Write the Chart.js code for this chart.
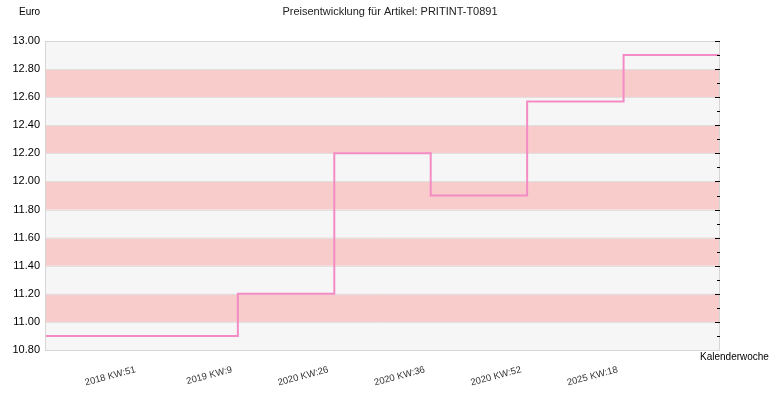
<!DOCTYPE html>
<html>
<head>
<meta charset="utf-8">
<script src="https://cdn.jsdelivr.net/npm/chart.js@4"></script>
<style>
  body { margin: 0; background: #fff; }
</style>
</head>
<body>
<canvas id="priceChart" width="770" height="400"></canvas>
<script>
// Data
const weeks = ['', '2018 KW:51', '2019 KW:9', '2020 KW:26', '2020 KW:36', '2020 KW:52', '2025 KW:18', ''];
const prices = [10.90, 10.90, 11.20, 12.20, 11.90, 12.57, 12.90, 12.90];
const yTicks = [10.80, 11.00, 11.20, 11.40, 11.60, 11.80, 12.00, 12.20, 12.40, 12.60, 12.80, 13.00];

const titleText = 'Preisentwicklung für Artikel: PRITINT-T0891';

// Bands, right ticks and extra texts
const decorPlugin = {
  id: 'decor',
  beforeDatasetsDraw(chart) {
    const { ctx, chartArea: a, scales: { y } } = chart;
    ctx.save();
    ctx.fillStyle = '#f6f6f6';
    ctx.fillRect(a.left, a.top, a.right - a.left, a.bottom - a.top);
    // pink band every other interval
    for (let i = 0; i < yTicks.length - 1; i++) {
      if (i % 2 === 1) {
        const y1 = y.getPixelForValue(yTicks[i]);
        const y2 = y.getPixelForValue(yTicks[i + 1]);
        ctx.fillStyle = '#f9cccc';
        ctx.fillRect(a.left, y2, a.right - a.left, y1 - y2);
      }
    }
    ctx.strokeStyle = '#e0e0e0';
    ctx.lineWidth = 1;
    yTicks.forEach(v => {
      const py = Math.round(y.getPixelForValue(v)) + 0.5;
      ctx.beginPath();
      ctx.moveTo(a.left, py);
      ctx.lineTo(a.right, py);
      ctx.stroke();
    });
    ctx.restore();
  },
  afterDraw(chart) {
    const { ctx, chartArea: a, scales: { y } } = chart;
    ctx.save();
    // border
    ctx.strokeStyle = '#d6d6d6';
    ctx.lineWidth = 1;
    ctx.strokeRect(a.left + 0.5, a.top + 0.5, a.right - a.left - 1, a.bottom - a.top);
    // right minor/major ticks
    ctx.strokeStyle = '#000';
    for (let i = 0; i < yTicks.length - 1; i++) {
      const v0 = yTicks[i];
      const vm = (yTicks[i] + yTicks[i + 1]) / 2;
      [[v0, 5], [vm, 3]].forEach(([v, len]) => {
        if (v === yTicks[0]) return;
        const py = Math.round(y.getPixelForValue(v)) + 0.5;
        ctx.beginPath();
        ctx.moveTo(a.right - len, py);
        ctx.lineTo(a.right, py);
        ctx.stroke();
      });
    }
    const top = Math.round(y.getPixelForValue(yTicks[yTicks.length - 1])) + 0.5;
    ctx.beginPath();
    ctx.moveTo(a.right - 5, top);
    ctx.lineTo(a.right, top);
    ctx.stroke();

    ctx.fillStyle = '#222';
    ctx.font = '11px "Liberation Sans", Arial, sans-serif';
    ctx.textAlign = 'center';
    ctx.textBaseline = 'middle';
    ctx.fillText(titleText, 390, 12);
    ctx.fillStyle = '#000';
    ctx.font = '10px "Liberation Sans", Arial, sans-serif';
    ctx.textAlign = 'left';
    ctx.fillText('Euro', 19, 12);
    ctx.fillText('Kalenderwoche', 700, 357);
    ctx.restore();
  }
};

const ctx = document.getElementById('priceChart').getContext('2d');
new Chart(ctx, {
  type: 'line',
  data: {
    labels: weeks,
    datasets: [{
      data: prices,
      borderColor: '#f38cc4',
      borderWidth: 2,
      stepped: true,
      pointRadius: 0,
      fill: false
    }]
  },
  options: {
    responsive: false,
    animation: false,
    layout: { padding: { top: 41, right: 50, left: 0, bottom: 0 } },
    plugins: {
      legend: { display: false },
      tooltip: { enabled: false }
    },
    scales: {
      x: {
        type: 'category',
        offset: false,
        grid: { display: false, drawTicks: false },
        border: { display: false },
        ticks: {
          autoSkip: false,
          maxRotation: 15,
          minRotation: 15,
          padding: 14,
          labelOffset: -6,
          color: '#333',
          font: { family: '"Liberation Sans", Arial, sans-serif', size: 9.5 }
        },
        afterFit: scale => { scale.height = 50; }
      },
      y: {
        min: 10.8,
        max: 13.0,
        grid: { display: false, drawTicks: false },
        border: { display: false },
        afterBuildTicks: scale => { scale.ticks = yTicks.map(v => ({ value: v })); },
        ticks: {
          padding: 5,
          color: '#000',
          font: { family: '"Liberation Sans", Arial, sans-serif', size: 11 },
          callback: v => Number(v).toFixed(2)
        },
        afterFit: scale => { scale.width = 45; }
      }
    }
  },
  plugins: [decorPlugin]
});
</script>
</body>
</html>
